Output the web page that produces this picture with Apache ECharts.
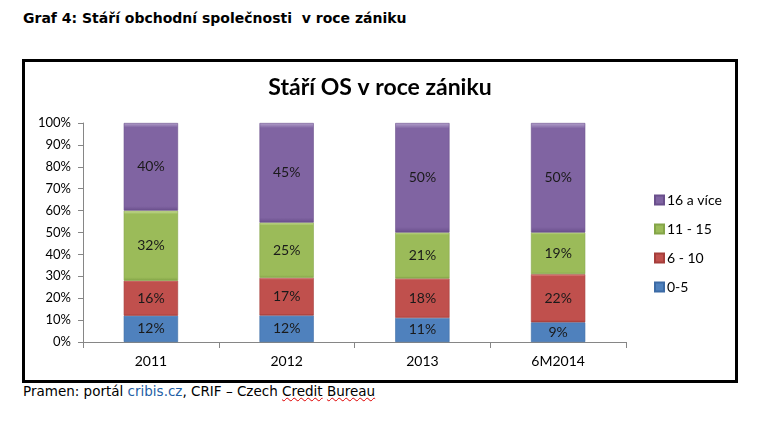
<!DOCTYPE html>
<html lang="cs">
<head>
  <meta charset="UTF-8">
  <title>Stáří OS v roce zániku</title>
  <style>
    body { margin: 0; background: #fff; width: 758px; height: 421px; position: relative; overflow: hidden; }
    .head { position: absolute; left: 23px; top: 10px; font: bold 14px "DejaVu Sans", Verdana, sans-serif; color: #000; }
    .box { position: absolute; left: 22px; top: 59px; width: 716px; height: 324px; border: 3px solid #000; box-sizing: border-box; }
    .foot { position: absolute; left: 23px; top: 383px; font: 13.5px "DejaVu Sans", Verdana, sans-serif; color: #000; }
    .foot .link { color: #1F5FA6; }
    .foot .wavy { text-decoration: underline wavy #d00; text-decoration-thickness: 1px; }
  </style>
</head>
<body>
  <div class="head">Graf 4: Stáří obchodní společnosti&nbsp; v roce zániku</div>
  <div class="box" id="chart"></div>
  <div class="foot">Pramen: portál <span class="link">cribis.cz</span>, CRIF – Czech <span class="wavy">Credit</span> <span class="wavy">Bureau</span></div>

  <script src="https://cdn.jsdelivr.net/npm/echarts@6/dist/echarts.min.js"></script>
  <script>
    // data (percent)
    let years = ['2011', '2012', '2013', '6M2014']
    let seriesNames = ['0-5', '6 - 10', '11 - 15', '16 a více']
    let age0to5 = [12, 12, 11, 9]
    let age6to10 = [16, 17, 18, 22]
    let age11to15 = [32, 25, 21, 19]
    let age16plus = [40, 45, 50, 50]
    let yTicks = ['0%', '10%', '20%', '30%', '40%', '50%', '60%', '70%', '80%', '90%', '100%']

    let colors = [
      ['#8DB3E2', '#4F81BD', '#3C6BA5'],
      ['#E6908E', '#C0504D', '#A53E3B'],
      ['#CFE2A3', '#9BBB59', '#84A548'],
      ['#B4A2CC', '#8064A2', '#6A4F8C']
    ]

    let raw = [age0to5, age6to10, age11to15, age16plus]
    let totals = years.map(function (y, i) {
      return raw.reduce(function (s, arr) { return s + arr[i] }, 0)
    })

    let series = raw.map(function (arr, k) {
      return {
        name: seriesNames[k],
        type: 'bar',
        stack: 'total',
        barWidth: '40%',
        data: arr.map(function (v, i) {
          return { value: v / totals[i] * 100, raw: v }
        }),
        itemStyle: {
          color: new echarts.graphic.LinearGradient(0, 0, 0, 1, [
            { offset: 0, color: colors[k][0] },
            { offset: 0.05, color: colors[k][1] },
            { offset: 0.95, color: colors[k][1] },
            { offset: 1, color: colors[k][2] }
          ]),
          borderColor: colors[k][2],
          borderWidth: 0.6
        },
        label: {
          show: true,
          position: 'inside',
          color: '#1a1a1a',
          fontFamily: 'Lato',
          fontSize: 14,
          formatter: function (p) { return p.data.raw + '%' }
        }
      }
    })

    let myChart = echarts.init(document.getElementById('chart'))
    let option = {
      animation: false,
      title: {
        text: 'Stáří OS v roce zániku',
        left: 'center',
        top: 9,
        textStyle: { fontFamily: 'Lato', fontSize: 23, fontWeight: 'bold', color: '#000' }
      },
      legend: {
        orient: 'vertical',
        left: 624,
        top: 126,
        itemWidth: 9,
        itemHeight: 9,
        itemGap: 15,
        icon: 'rect',
        data: seriesNames.slice().reverse(),
        textStyle: { fontFamily: 'Lato', fontSize: 14, color: '#000', padding: [0, 0, 0, -2] }
      },
      grid: { left: 58, right: 109, top: 61, bottom: 38 },
      xAxis: {
        type: 'category',
        data: years,
        axisLine: { lineStyle: { color: '#868686' } },
        axisTick: { show: true, length: 6, lineStyle: { color: '#868686' } },
        axisLabel: { fontFamily: 'Lato', fontSize: 14, color: '#000', margin: 12 }
      },
      yAxis: {
        type: 'value',
        min: 0,
        max: 100,
        interval: 10,
        axisLine: { show: true, lineStyle: { color: '#868686' } },
        axisTick: { show: true, length: 5, lineStyle: { color: '#868686' } },
        splitLine: { show: false },
        axisLabel: {
          fontFamily: 'Lato', fontSize: 13, color: '#000', margin: 12,
          formatter: function (v) { return yTicks[Math.round(v / 10)] }
        }
      },
      series: series
    }
    myChart.setOption(option)
  </script>
</body>
</html>
